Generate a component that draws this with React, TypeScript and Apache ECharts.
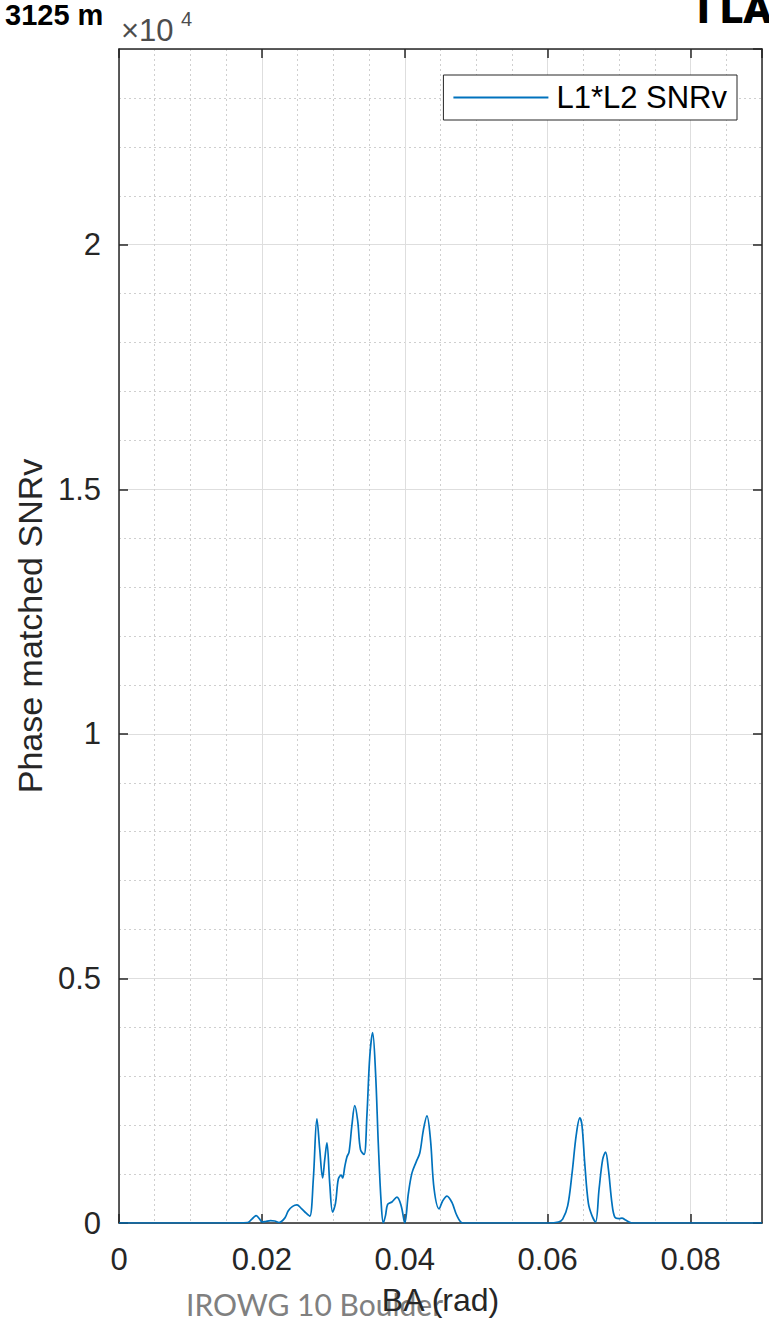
import React, { useEffect, useRef } from "react";
import * as echarts from "echarts";

// BA (rad)
const baValues = [
  0, 0.005, 0.01, 0.015, 0.018, 0.0186, 0.0192, 0.0197, 0.02, 0.0205,
  0.0212, 0.0218, 0.0224, 0.0232, 0.0237, 0.0243, 0.0249, 0.0255, 0.0262, 0.0267,
  0.0272, 0.0277, 0.0281, 0.0285, 0.0288, 0.0291, 0.0295, 0.0299, 0.0303, 0.0307,
  0.0311, 0.0313, 0.0316, 0.0319, 0.0322, 0.0326, 0.033, 0.0334, 0.0338, 0.0343,
  0.0347, 0.0351, 0.0355, 0.0359, 0.0363, 0.0367, 0.037, 0.0373, 0.0376, 0.0382,
  0.0389, 0.0395, 0.04, 0.0405, 0.041, 0.0416, 0.0421, 0.0426, 0.0431, 0.0436,
  0.0441, 0.0448, 0.0453, 0.0459, 0.0466, 0.0473, 0.0481, 0.05, 0.055, 0.06,
  0.0615, 0.0621, 0.0628, 0.0634, 0.064, 0.0645, 0.0648, 0.0652, 0.0657, 0.0662,
  0.0667, 0.0672, 0.0677, 0.0681, 0.0685, 0.069, 0.0694, 0.07, 0.0704, 0.0709,
  0.0714, 0.0718, 0.075, 0.08, 0.085, 0.09,
];

// Phase matched SNRv (L1*L2)
const snrValues = [
  0, 0, 0, 0, 10, 80, 150, 80, 20, 30,
  50, 40, 10, 100, 250, 340, 370, 300, 200, 140,
  900, 2130, 1500, 920, 1300, 1640, 800, 225, 400, 900,
  980, 920, 1150, 1350, 1450, 2000, 2400, 2100, 1500, 1400,
  2200, 3400, 3890, 3100, 1600, 400, 0, 150, 380, 430,
  530, 350, 0, 600, 1020, 1250, 1430, 1900, 2190, 1700,
  700, 290, 450, 550, 420, 150, 0, 0, 0, 0,
  20, 80, 350, 1000, 1800, 2150, 2000, 1200, 400, 150,
  20, 700, 1300, 1450, 1100, 400, 120, 90, 100, 60,
  20, 0, 0, 0, 0, 0,
];

const seriesName = "L1*L2 SNRv";
const xAxisName = "BA (rad)";
const yAxisName = "Phase matched SNRv";

const X_MIN = 0;
const X_MAX = 0.09;
const X_MAJOR = 0.02;
const X_MINOR = 0.005;
const Y_MIN = 0;
const Y_MAX = 24000;
const Y_MAJOR = 5000;
const Y_MINOR = 1000;

const AXIS_COLOR = "#262626";
const FONT = '"Liberation Sans", Arial, Helvetica, sans-serif';

export default function App() {
  const ref = useRef<HTMLDivElement>(null);

  useEffect(() => {
    if (!ref.current) return;
    const chart = echarts.init(ref.current, null, { renderer: "svg" });

    const data = baValues.map((x, i) => [x, snrValues[i]]);

    const hiddenAxisBits = {
      axisLabel: { show: false },
      axisTick: { show: false },
      axisLine: { show: false },
    };

    chart.setOption({
      animation: false,
      backgroundColor: "#ffffff",
      textStyle: { fontFamily: FONT },
      grid: { left: 119, top: 49, right: 7, bottom: 110, containLabel: false },
      legend: {
        show: true,
        data: [{ name: seriesName, icon: "rect" }],
        right: 32,
        top: 75,
        orient: "horizontal",
        itemWidth: 95,
        itemHeight: 2,
        itemStyle: { color: "#0072BD" },
        backgroundColor: "#ffffff",
        borderColor: AXIS_COLOR,
        borderWidth: 1,
        borderRadius: 0,
        padding: [7, 10, 7, 10],
        textStyle: { fontSize: 31, color: "#000000", fontFamily: FONT, padding: [0, 0, 0, 3] },
      },
      xAxis: [
        {
          // minor grid
          type: "value",
          min: X_MIN,
          max: X_MAX,
          interval: X_MINOR,
          position: "bottom",
          ...hiddenAxisBits,
          splitLine: {
            show: true,
            lineStyle: { color: "#cfcfcf", type: [2, 3], width: 1 },
          },
        },
        {
          type: "value",
          min: X_MIN,
          max: X_MAX,
          interval: X_MAJOR,
          position: "bottom",
          name: xAxisName,
          nameLocation: "middle",
          nameGap: 61,
          nameTextStyle: { fontSize: 32, color: AXIS_COLOR, fontFamily: FONT },
          axisLine: { show: true, onZero: false, lineStyle: { color: AXIS_COLOR, width: 1.5 } },
          axisTick: { show: true, inside: true, length: 9, lineStyle: { color: AXIS_COLOR, width: 1.5 } },
          axisLabel: {
            show: true,
            margin: 21,
            fontSize: 31,
            color: AXIS_COLOR,
            fontFamily: FONT,
            showMaxLabel: false,
            formatter: (v: number) => (v === 0 ? "0" : String(+v.toFixed(2))),
          },
          splitLine: { show: true, lineStyle: { color: "#dedede", width: 1 } },
        },
        {
          type: "value",
          min: X_MIN,
          max: X_MAX,
          interval: X_MAJOR,
          position: "top",
          axisLine: { show: true, onZero: false, lineStyle: { color: AXIS_COLOR, width: 1.5 } },
          axisTick: { show: true, inside: true, length: 9, lineStyle: { color: AXIS_COLOR, width: 1.5 } },
          axisLabel: { show: false },
          splitLine: { show: false },
        },
      ],
      yAxis: [
        {
          type: "value",
          min: Y_MIN,
          max: Y_MAX,
          interval: Y_MINOR,
          position: "left",
          ...hiddenAxisBits,
          splitLine: {
            show: true,
            lineStyle: { color: "#cfcfcf", type: [2, 3], width: 1 },
          },
        },
        {
          type: "value",
          min: Y_MIN,
          max: Y_MAX,
          interval: Y_MAJOR,
          position: "left",
          name: yAxisName,
          nameLocation: "middle",
          nameGap: 68,
          nameRotate: 90,
          nameTextStyle: { fontSize: 34, color: AXIS_COLOR, fontFamily: FONT, padding: [0, 0, 0, 20] },
          axisLine: { show: true, onZero: false, lineStyle: { color: AXIS_COLOR, width: 1.5 } },
          axisTick: { show: true, inside: true, length: 9, lineStyle: { color: AXIS_COLOR, width: 1.5 } },
          axisLabel: {
            show: true,
            margin: 18,
            fontSize: 31,
            color: AXIS_COLOR,
            fontFamily: FONT,
            showMaxLabel: false,
            formatter: (v: number) => String(v / 10000),
          },
          splitLine: { show: true, lineStyle: { color: "#dedede", width: 1 } },
        },
        {
          type: "value",
          min: Y_MIN,
          max: Y_MAX,
          interval: Y_MAJOR,
          position: "right",
          axisLine: { show: true, onZero: false, lineStyle: { color: AXIS_COLOR, width: 1.5 } },
          axisTick: { show: true, inside: true, length: 9, lineStyle: { color: AXIS_COLOR, width: 1.5 } },
          axisLabel: { show: false },
          splitLine: { show: false },
        },
      ],
      series: [
        {
          name: seriesName,
          type: "line",
          xAxisIndex: 1,
          yAxisIndex: 1,
          data,
          symbol: "none",
          showSymbol: false,
          smooth: 0.35,
          lineStyle: { color: "#0072BD", width: 1.7 },
          itemStyle: { color: "#0072BD" },
          z: 5,
        },
      ],
      graphic: [
        {
          type: "text",
          left: 5,
          top: 0,
          style: { text: "3125 m", font: `bold 29px ${FONT}`, fill: "#000000" },
        },
        {
          type: "text",
          left: 121,
          top: 15,
          style: { text: "×10", font: `31px ${FONT}`, fill: "#4d4d4d" },
        },
        {
          type: "text",
          left: 181,
          top: 9,
          style: { text: "4", font: `20px ${FONT}`, fill: "#4d4d4d" },
        },
        {
          type: "text",
          left: 697,
          top: -13,
          style: { text: "I LA", font: `900 42px Roboto, ${FONT}`, fill: "#000000" },
        },
        {
          type: "text",
          left: 186,
          top: 1289,
          style: { text: "IROWG 10 Boulder", font: `30px Lato, "Open Sans", sans-serif`, fill: "#808080" },
        },
      ],
    });

    return () => {
      chart.dispose();
    };
  }, []);

  return (
    <div
      ref={ref}
      style={{ position: "fixed", left: 0, top: 0, width: 769, height: 1333, background: "#fff" }}
    />
  );
}
